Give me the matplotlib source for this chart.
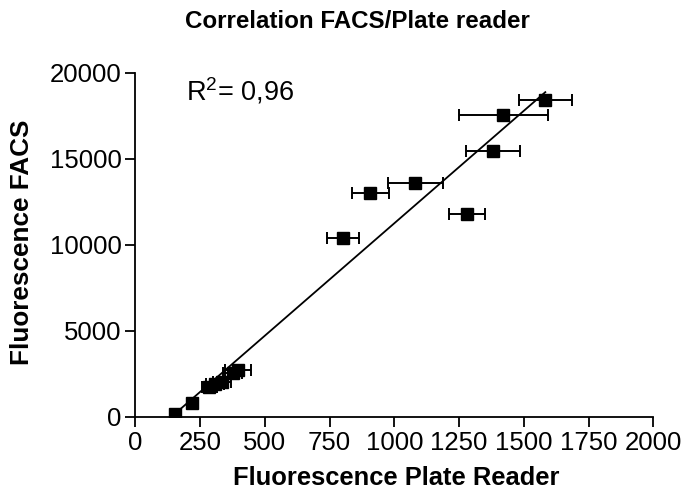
import numpy as np
import matplotlib
matplotlib.use("Agg")
import matplotlib.pyplot as plt

plt.rcParams['font.family'] = ['Liberation Sans', 'DejaVu Sans']
plt.rcParams['mathtext.fontset'] = 'custom'
plt.rcParams['mathtext.rm'] = 'Liberation Sans'
plt.rcParams['mathtext.default'] = 'regular'

# Data
plate_reader = [155, 218, 286, 308, 334, 376, 398, 801, 907, 1081, 1280, 1381, 1421, 1583]
facs = [200, 795, 1727, 1900, 2052, 2576, 2733, 10390, 13023, 13622, 11820, 15465, 17576, 18413]
plate_err = [10, 15, 30, 35, 35, 36, 50, 62, 71, 106, 69, 105, 172, 102]
x_ticks = [0, 250, 500, 750, 1000, 1250, 1500, 1750, 2000]
y_ticks = [0, 5000, 10000, 15000, 20000]

fig = plt.figure(figsize=(6.83, 4.95), dpi=100)
ax = fig.add_axes([135.3/683, 1-417/495, (653.3-135.3)/683, (417-73)/495])

ax.errorbar(plate_reader, facs, xerr=plate_err, fmt='s', color='black',
            markersize=8, capsize=4, elinewidth=1.4, capthick=1.4, zorder=3)

slope, intercept = np.polyfit(plate_reader, facs, 1)
xl = np.array([min(plate_reader), max(plate_reader)])
ax.plot(xl, slope*xl + intercept, color='black', lw=1.3, zorder=2)

ax.set_xlim(0, 2000)
ax.set_ylim(0, 20000)
ax.set_xticks(x_ticks)
ax.set_yticks(y_ticks)
ax.tick_params(direction='out', length=7, width=1.3, labelsize=18.5, pad=3)
for s in ['top', 'right']:
    ax.spines[s].set_visible(False)
for s in ['left', 'bottom']:
    ax.spines[s].set_linewidth(1.3)

fig.text(396/683, 1-478/495, 'Fluorescence Plate Reader', fontsize=18.4,
         fontweight='bold', ha='center', va='center')
fig.text(22/683, 1-242/495, 'Fluorescence FACS', fontsize=18.8,
         fontweight='bold', ha='center', va='center', rotation=90)

ax.text(196, 18430, 'R$^{2}$= 0,96', fontsize=19.5, va='baseline', ha='left')

fig.text(357/683, 1-22/495, 'Correlation FACS/Plate reader', fontsize=17.4,
         fontweight='bold', ha='center', va='center')

fig.savefig('out.png', dpi=100)
